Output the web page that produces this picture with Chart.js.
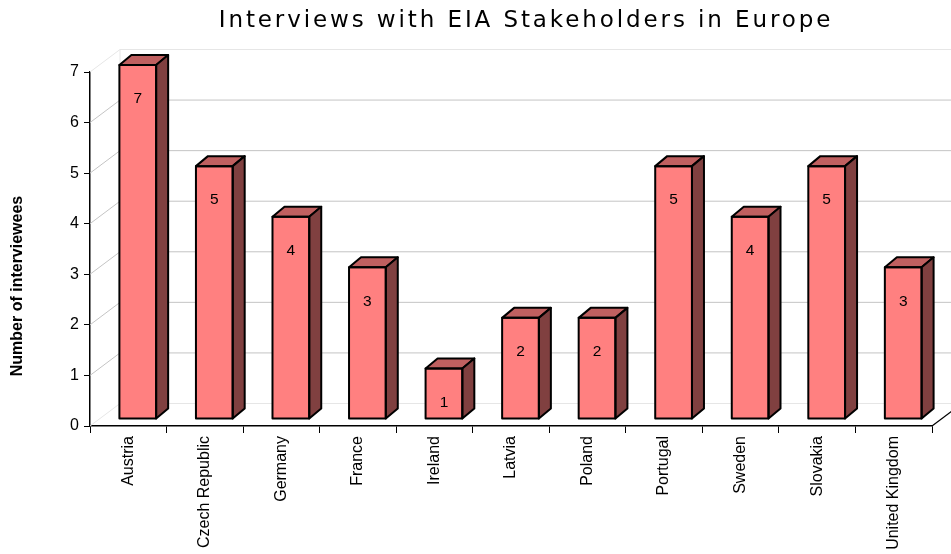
<!DOCTYPE html>
<html>
<head>
<meta charset="utf-8">
<script src="https://cdn.jsdelivr.net/npm/chart.js@4.4.1/dist/chart.umd.min.js"></script>
<style>
  html, body { margin: 0; padding: 0; background: #fff; }
  #wrap { width: 951px; height: 554px; }
</style>
</head>
<body>
<div id="wrap"><canvas id="grafico" width="951" height="554"></canvas></div>
<script>
// dados do gráfico
const paises = ['Austria', 'Czech Republic', 'Germany', 'France', 'Ireland', 'Latvia',
                'Poland', 'Portugal', 'Sweden', 'Slovakia', 'United Kingdom'];
const entrevistados = [7, 5, 4, 3, 1, 2, 2, 5, 4, 5, 3];
const ticksY = [0, 1, 2, 3, 4, 5, 6, 7];
const titulo = 'Interviews with EIA Stakeholders in Europe';
const tituloEixoY = 'Number of interviewees';

// profundidade do "3D"
const PAREDE_DX = 30, PAREDE_DY = -22.5;   // parede do fundo
const BARRA_DX = 9.5, BARRA_DY = -7;      // deslocamento das barras
const PROF_DX = 12, PROF_DY = -10;        // espessura das barras

Chart.defaults.color = '#000';
Chart.defaults.font.family = '"Liberation Sans", Arial, sans-serif';

// desenha paredes, grade e as faces de cima/lado das barras
const efeito3D = {
    id: 'efeito3D',
    beforeDatasetsDraw(chart) {
        const ctx = chart.ctx;
        const area = chart.chartArea;
        const y = chart.scales.y;
        ctx.save();
        ctx.lineWidth = 1;
        ticksY.forEach((v) => {
            const py = y.getPixelForValue(v);
            const borda = (v === ticksY[0] || v === ticksY[ticksY.length - 1]);
            ctx.strokeStyle = borda ? '#e6e6e6' : '#c4c4c4';
            ctx.beginPath();
            ctx.moveTo(area.left, py);
            ctx.lineTo(area.left + PAREDE_DX, py + PAREDE_DY);
            ctx.lineTo(chart.width + 5, py + PAREDE_DY);
            ctx.stroke();
        });
        // canto de trás da parede
        ctx.strokeStyle = '#e6e6e6';
        ctx.beginPath();
        ctx.moveTo(area.left + PAREDE_DX, area.top + PAREDE_DY);
        ctx.lineTo(area.left + PAREDE_DX, area.bottom + PAREDE_DY);
        ctx.stroke();
        // borda direita do piso
        ctx.strokeStyle = '#000';
        ctx.lineWidth = 1.2;
        ctx.beginPath();
        ctx.moveTo(area.right, area.bottom);
        ctx.lineTo(area.right + PAREDE_DX, area.bottom + PAREDE_DY);
        ctx.stroke();
        ctx.restore();

        // as barras são desenhadas já deslocadas
        ctx.save();
        ctx.translate(BARRA_DX, BARRA_DY);
    },
    afterDatasetsDraw(chart) {
        const ctx = chart.ctx;
        const meta = chart.getDatasetMeta(0);
        ctx.lineWidth = 2;
        ctx.lineJoin = 'round';
        ctx.strokeStyle = '#000';
        meta.data.forEach((bar, i) => {
            const p = bar.getProps(['x', 'y', 'base', 'width'], true);
            const esq = p.x - p.width / 2;
            const dir = p.x + p.width / 2;
            // topo
            ctx.fillStyle = '#c06060';
            ctx.beginPath();
            ctx.moveTo(esq, p.y);
            ctx.lineTo(esq + PROF_DX, p.y + PROF_DY);
            ctx.lineTo(dir + PROF_DX, p.y + PROF_DY);
            ctx.lineTo(dir, p.y);
            ctx.closePath();
            ctx.fill();
            ctx.stroke();
            // lateral
            ctx.fillStyle = '#804040';
            ctx.beginPath();
            ctx.moveTo(dir, p.y);
            ctx.lineTo(dir + PROF_DX, p.y + PROF_DY);
            ctx.lineTo(dir + PROF_DX, p.base + PROF_DY);
            ctx.lineTo(dir, p.base);
            ctx.closePath();
            ctx.fill();
            ctx.stroke();
            // frente (contorno)
            ctx.strokeRect(esq, p.y, p.width, p.base - p.y);
            // rótulo do valor
            ctx.fillStyle = '#000';
            ctx.font = '15.5px "Liberation Sans", Arial, sans-serif';
            ctx.textAlign = 'center';
            ctx.textBaseline = 'middle';
            ctx.fillText(String(entrevistados[i]), p.x, p.y + 34);
        });
        ctx.restore();
    },
    afterDraw(chart) {
        const ctx = chart.ctx;
        ctx.save();
        // título
        ctx.fillStyle = '#000';
        ctx.font = '23px "DejaVu Sans", Verdana, sans-serif';
        ctx.letterSpacing = '2.9px';
        ctx.textAlign = 'center';
        ctx.textBaseline = 'middle';
        ctx.fillText(titulo, 526, 21);
        ctx.letterSpacing = '0px';
        // título do eixo Y
        ctx.translate(18, 286);
        ctx.rotate(-Math.PI / 2);
        ctx.font = 'bold 16px "Liberation Sans", Arial, sans-serif';
        ctx.fillText(tituloEixoY, 0, 0);
        ctx.restore();
    }
};

new Chart(document.getElementById('grafico'), {
    type: 'bar',
    data: {
        labels: paises,
        datasets: [{
            data: entrevistados,
            backgroundColor: '#ff8080',
            borderWidth: 0,
            categoryPercentage: 1,
            barPercentage: 0.48,
            clip: false
        }]
    },
    options: {
        responsive: false,
        animation: false,
        events: [],
        layout: { padding: { top: 72, right: 19, bottom: 0, left: 0 } },
        plugins: {
            legend: { display: false },
            tooltip: { enabled: false },
            title: { display: false }
        },
        scales: {
            x: {
                afterFit(scale) { scale.height = 128; },
                border: { color: '#000', width: 1.5 },
                grid: { drawOnChartArea: false, drawTicks: true, tickLength: 7, color: '#000', offset: true },
                ticks: {
                    autoSkip: false,
                    minRotation: 90,
                    maxRotation: 90,
                    padding: 3,
                    font: { size: 16 }
                }
            },
            y: {
                min: 0,
                max: 7,
                afterFit(scale) { scale.width = 90; },
                border: { color: '#000', width: 1.5 },
                grid: { drawOnChartArea: false, drawTicks: true, tickLength: 6, color: '#000' },
                ticks: { stepSize: 1, padding: 5, font: { size: 16 } }
            }
        }
    },
    plugins: [efeito3D]
});
</script>
</body>
</html>
